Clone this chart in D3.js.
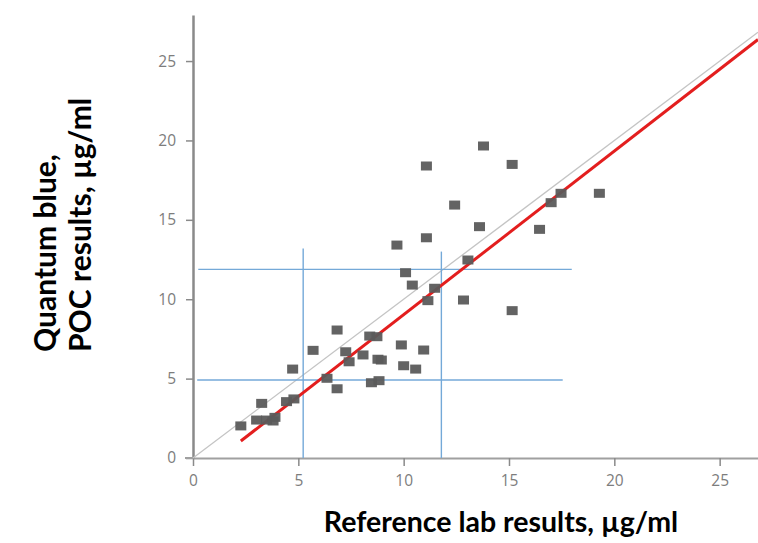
<!DOCTYPE html>
<html>
<head>
<meta charset="utf-8">
<script src="https://cdn.jsdelivr.net/npm/d3@7"></script>
<style>
  body { margin: 0; background: #fff; }
  svg { display: block; }
</style>
</head>
<body>
<svg id="chart" width="758" height="543"></svg>
<script>
// reference lab (x) vs Quantum blue POC (y), µg/ml
const refLab = [2.27, 3.02, 3.26, 3.49, 3.89, 3.80, 4.44, 4.79, 4.73, 5.70, 6.36, 6.84, 6.84, 7.25,
  7.41, 8.07, 8.39, 8.73, 8.78, 8.94, 8.47, 8.83, 9.89, 10.0, 10.57, 10.95, 9.68, 10.09, 10.41,
  11.08, 11.08, 11.15, 11.47, 12.42, 12.84, 13.05, 13.60, 13.79, 15.15, 15.15, 16.45, 17.0, 17.47, 19.29]
const poc = [2.02, 2.39, 3.44, 2.39, 2.56, 2.33, 3.55, 3.72, 5.60, 6.78, 5.02, 8.06, 4.36, 6.69,
  6.06, 6.49, 7.68, 7.64, 6.22, 6.17, 4.74, 4.87, 7.12, 5.81, 5.60, 6.80, 13.41, 11.67, 10.89,
  13.87, 18.39, 9.91, 10.69, 15.93, 9.95, 12.47, 14.57, 19.65, 18.49, 9.28, 14.40, 16.08, 16.67, 16.67]

const yTicks = [0, 5, 10, 15, 20, 25]
const xTicks = [0, 5, 10, 15, 20, 25]

// regression line y = slope*x + intercept, drawn from fitStart
const slope = 1.03
const intercept = -1.27
const fitStart = 2.27

// cut-off guide lines
const cutX = [{x: 5.23, top: 13.2}, {x: 11.79, top: 13.0}]
const cutY = [{y: 11.88, from: 0.25, to: 17.98}, {y: 4.91, from: 0.2, to: 17.55}]

const xMax = 26.82, yMax = 27.9

const svg = d3.select("#chart")
const x = d3.scaleLinear().domain([0, xMax]).range([193, 758])
const y = d3.scaleLinear().domain([0, yMax]).range([458, 15])

// axes
const yAxis = svg.append("g")
    .attr("transform", `translate(${x(0)},0)`)
    .call(d3.axisLeft(y).tickValues(yTicks).tickSize(7).tickSizeOuter(0).tickPadding(10))
yAxis.select(".domain").attr("stroke", "#8a8a8a").attr("stroke-width", 2.5)

const xAxis = svg.append("g")
    .attr("transform", `translate(0,${y(0)})`)
    .call(d3.axisBottom(x).tickValues(xTicks).tickSize(8).tickSizeOuter(0).tickPadding(9))
xAxis.select(".domain").attr("stroke", "#a0a0a0").attr("stroke-width", 2)

svg.selectAll(".tick line").attr("stroke", "#8a8a8a").attr("stroke-width", 1.5)
svg.selectAll(".tick text")
    .attr("fill", "#7d7d7d")
    .attr("font-family", "Open Sans, sans-serif")
    .attr("font-size", 15.5)

// small stub of x axis left of y axis
svg.append("line")
    .attr("x1", x(0) - 8).attr("x2", x(0))
    .attr("y1", y(0)).attr("y2", y(0))
    .attr("stroke", "#a0a0a0").attr("stroke-width", 2)

// identity line
svg.append("line")
    .attr("x1", x(0)).attr("y1", y(0))
    .attr("x2", x(xMax)).attr("y2", y(xMax))
    .attr("stroke", "#c4c4c4").attr("stroke-width", 1.3)

// blue cut-off lines
const blue = "#74a9d8"
svg.append("g").selectAll("line").data(cutX).join("line")
    .attr("x1", d => x(d.x)).attr("x2", d => x(d.x))
    .attr("y1", y(0)).attr("y2", d => y(d.top))
    .attr("stroke", blue).attr("stroke-width", 1.4)
svg.append("g").selectAll("line").data(cutY).join("line")
    .attr("x1", d => x(d.from)).attr("x2", d => x(d.to))
    .attr("y1", d => y(d.y)).attr("y2", d => y(d.y))
    .attr("stroke", blue).attr("stroke-width", 1.4)

// red fit line
svg.append("line")
    .attr("x1", x(fitStart)).attr("y1", y(slope * fitStart + intercept))
    .attr("x2", x(xMax)).attr("y2", y(slope * xMax + intercept))
    .attr("stroke", "#e31e1e").attr("stroke-width", 3)

// points
const pts = refLab.map((v, i) => ({x: v, y: poc[i]}))
svg.append("g").selectAll("rect").data(pts).join("rect")
    .attr("x", d => x(d.x) - 5.5)
    .attr("y", d => y(d.y) - 4.5)
    .attr("width", 11).attr("height", 9)
    .attr("fill", "#5b5b5b")
    .attr("fill-opacity", 0.95)

// titles
svg.append("text")
    .attr("x", 501).attr("y", 532)
    .attr("text-anchor", "middle")
    .attr("font-family", "Lato, sans-serif")
    .attr("font-weight", "bold")
    .attr("font-size", 28.5)
    .attr("fill", "#000")
    .text("Reference lab results, µg/ml")

const yt = svg.append("text")
    .attr("transform", "translate(0,352) rotate(-90)")
    .attr("text-anchor", "start")
    .attr("font-family", "Lato, sans-serif")
    .attr("font-weight", "bold")
    .attr("font-size", 30)
    .attr("fill", "#000")
yt.append("tspan").attr("x", 0).attr("y", 56).text("Quantum blue,")
yt.append("tspan").attr("x", 0).attr("y", 91).text("POC results, µg/ml")
</script>
</body>
</html>
